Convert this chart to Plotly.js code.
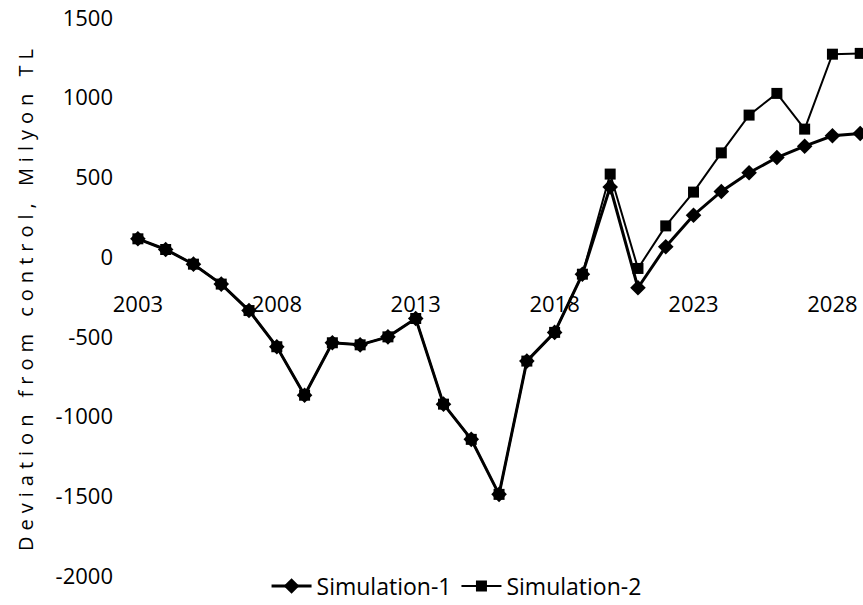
<!DOCTYPE html>
<html>
<head>
<meta charset="utf-8">
<script src="https://cdn.plot.ly/plotly-3.0.1.min.js"></script>
<style>
html,body{margin:0;padding:0;background:#fff;}
#chart{width:863px;height:605px;}
#chart .ytitle{letter-spacing:6px;}
</style>
</head>
<body>
<div id="chart"></div>
<script>
const years = [2003,2004,2005,2006,2007,2008,2009,2010,2011,2012,2013,2014,2015,2016,2017,2018,2019,2020,2021,2022,2023,2024,2025,2026,2027,2028,2029];
const simulation1 = [115,48,-44,-169,-335,-562,-866,-537,-550,-500,-385,-922,-1143,-1488,-652,-472,-107,440,-192,65,263,412,529,625,696,761,776];
const simulation2 = [115,48,-44,-169,-335,-562,-866,-537,-550,-500,-385,-922,-1143,-1488,-652,-472,-107,521,-71,196,408,654,891,1027,803,1273,1278];
const xTickVals = [2003,2008,2013,2018,2023,2028];
const yTickVals = [-2000,-1500,-1000,-500,0,500,1000,1500];
const yTickText = ['-2000','-1500','-1000','-500','0','500','1000','1500'];
const fontFam = '"Open Sans", "Liberation Sans", sans-serif';

const traces = [
  {x: years, y: simulation1, name: 'Simulation-1', type: 'scatter', mode: 'lines+markers',
   line: {color: '#000', width: 3}, marker: {symbol: 'diamond', size: 12, color: '#000'}},
  {x: years, y: simulation2, name: 'Simulation-2', type: 'scatter', mode: 'lines+markers',
   line: {color: '#000', width: 2}, marker: {symbol: 'square', size: 11, color: '#000'}}
];

const layout = {
  width: 863, height: 605,
  margin: {l: 124, r: 0, t: 18, b: 29, autoexpand: false},
  paper_bgcolor: '#fff', plot_bgcolor: '#fff',
  showlegend: true,
  legend: {orientation: 'h', x: 0.45, xanchor: 'center', y: -0.018, yanchor: 'middle',
           font: {family: fontFam, size: 23, color: '#000'}, itemwidth: 40},
  xaxis: {range: [2002.5, 2029.1], tickvals: xTickVals, ticktext: xTickVals.map(String),
          showgrid: false, zeroline: false, showline: false, ticks: '',
          anchor: 'free', position: 1800/3500,
          tickfont: {family: fontFam, size: 22, color: '#000'}},
  yaxis: {range: [-2000, 1500], tickvals: yTickVals, ticktext: yTickText,
          showgrid: false, zeroline: false,
          showline: false, ticks: '', ticklabelstandoff: 10,
          tickfont: {family: fontFam, size: 22, color: '#000'},
          title: {text: 'Deviation from control, Milyon TL', standoff: 16,
                  font: {family: fontFam, size: 20, color: '#000'}}}
};
Plotly.newPlot('chart', traces, layout, {displayModeBar: false, staticPlot: true});
</script>
</body>
</html>
